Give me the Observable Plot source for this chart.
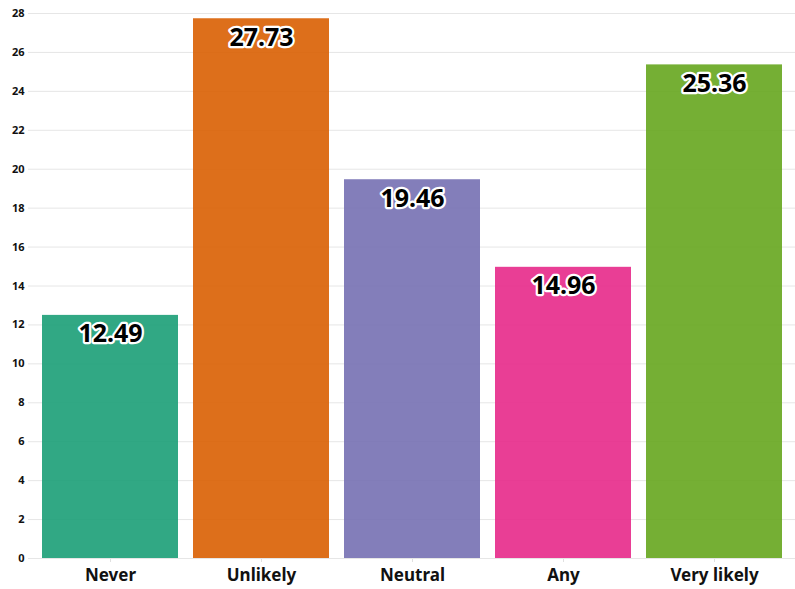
<!DOCTYPE html>
<html>
<head>
<meta charset="utf-8">
<script src="https://cdn.jsdelivr.net/npm/d3@7"></script>
<script src="https://cdn.jsdelivr.net/npm/@observablehq/plot@0.6"></script>
<style>
  html, body { margin: 0; padding: 0; background: #fff; }
  #chart svg { display: block; }
</style>
</head>
<body>
<div id="chart"></div>
<script>
const categories = ["Never", "Unlikely", "Neutral", "Any", "Very likely"];
const values = [12.49, 27.73, 19.46, 14.96, 25.36];
const colors = ["#1b9e77", "#d95f02", "#7570b3", "#e7298a", "#66a61e"];
const yTicks = [0, 2, 4, 6, 8, 10, 12, 14, 16, 18, 20, 22, 24, 26, 28];

const data = categories.map((c, i) => ({category: c, value: values[i]}));

const chart = Plot.plot({
  width: 795,
  height: 589,
  marginTop: 13,
  marginBottom: 31,
  marginLeft: 28,
  marginRight: 0,
  style: {fontFamily: "'Noto Sans', sans-serif", background: "#fff"},
  x: {domain: categories, paddingInner: 0.1, paddingOuter: 0.085, label: null},
  y: {domain: [0, 28], label: null},
  color: {domain: categories, range: colors},
  marks: [
    Plot.gridY(yTicks, {stroke: "#e6e6e6", strokeOpacity: 1, strokeWidth: 1}),
    Plot.axisY(yTicks, {tickSize: 0, tickPadding: 4, fontSize: 11, fontWeight: "bold", fill: "#111", label: null}),
    Plot.axisX({tickSize: 4, stroke: "#e0e0e0", tickPadding: 6, fontSize: 17, fontWeight: "bold", fill: "#111", label: null}),
    Plot.barY(data, {x: "category", y: "value", fill: "category", fillOpacity: 0.9}),
    Plot.ruleY([0], {stroke: "#e6e6e6"}),
    Plot.text(data, {x: "category", y: "value", text: d => d.value.toFixed(2), dy: 19, fontSize: 25, fontWeight: "bold", fill: "#000", stroke: "#fff", strokeWidth: 4.5, paintOrder: "stroke"})
  ]
});
document.getElementById("chart").appendChild(chart);
</script>
</body>
</html>
